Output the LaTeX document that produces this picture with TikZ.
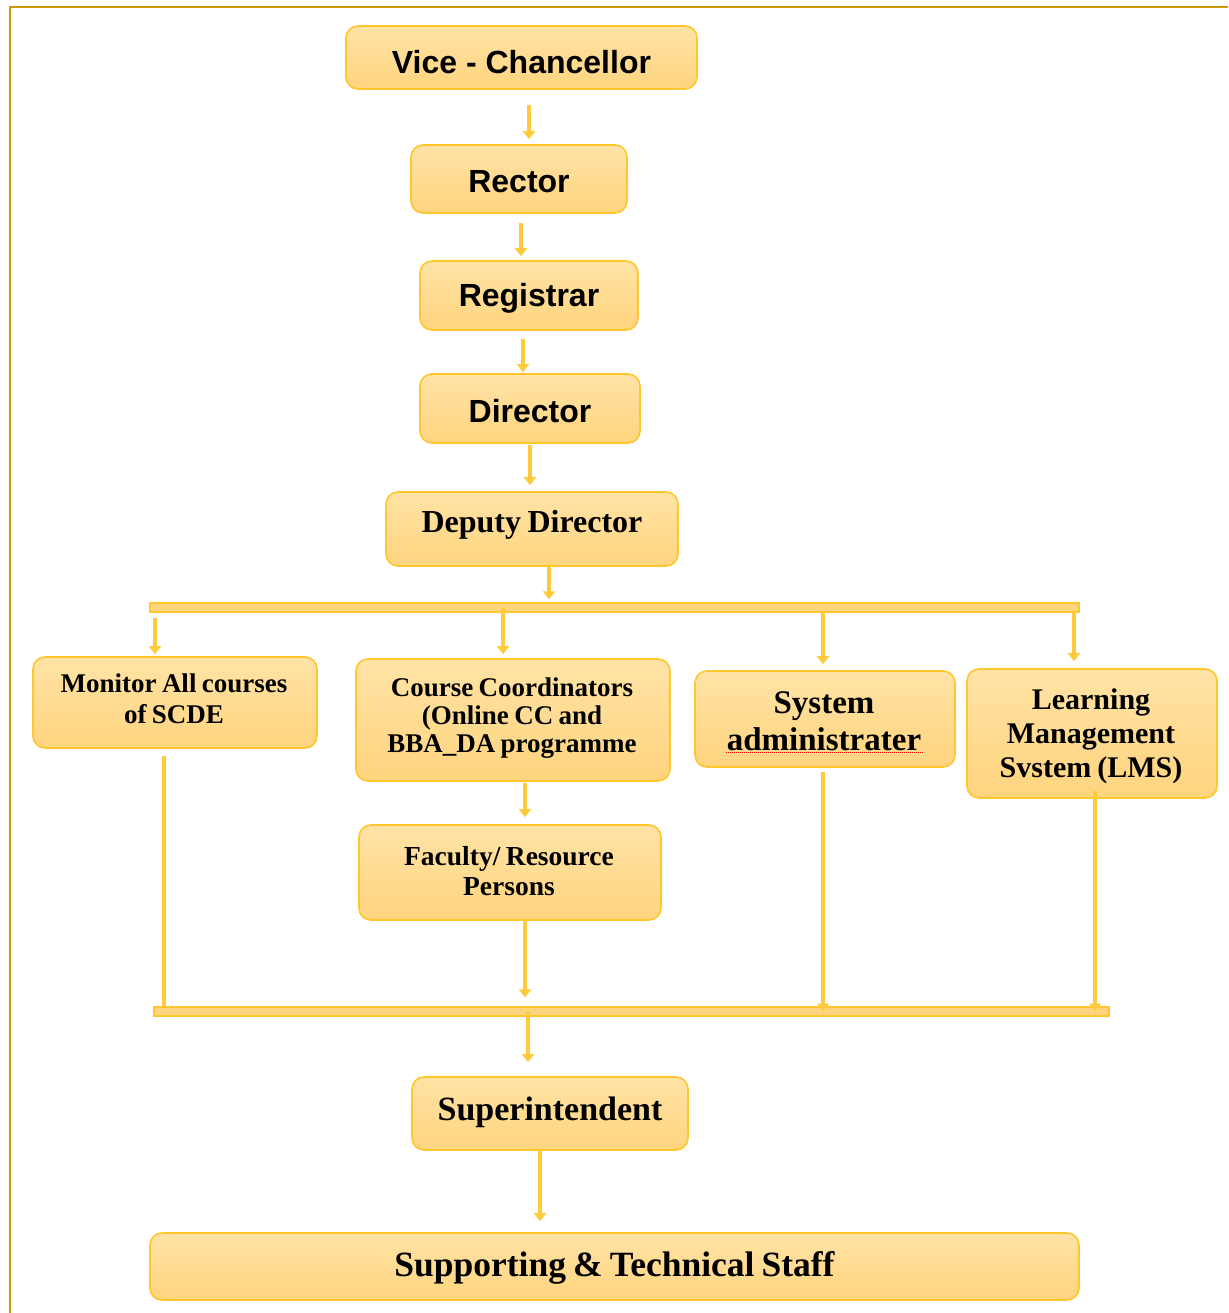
\documentclass[tikz,border=0pt]{standalone}
\usepackage{fontspec}
\usetikzlibrary{arrows.meta}
\newfontfamily\arialf{Liberation Sans}
\newfontfamily\timesf{Liberation Serif}[WordSpace=0.8]
\definecolor{boxline}{HTML}{FFC72C}
\definecolor{boxtop}{HTML}{FFE3A6}
\definecolor{boxbot}{HTML}{FFD47E}
\definecolor{arrc}{HTML}{FFCB3D}
\definecolor{framec}{HTML}{C99A06}
\tikzset{
  box/.style={draw=boxline, line width=1.6pt, rounded corners=12pt, top color=boxtop, bottom color=boxbot, inner sep=0pt},
  bar/.style={draw=boxline, line width=1.2pt, fill=boxbot, inner sep=0pt},
  sansl/.style={font=\arialf\bfseries\fontsize{32}{36}\selectfont, text=black},
  serl/.style 2 args={font=\timesf\bfseries\fontsize{#1}{#2}\selectfont, text=black, align=center},
  arr/.style={draw=arrc, line width=4pt, -{Triangle[width=12pt,length=8pt]}},
  plainline/.style={draw=arrc, line width=4pt},
}
\begin{document}
\begin{tikzpicture}[x=1pt, y=-1pt]
\useasboundingbox (0,0) rectangle (1228,1313);
\draw[framec, line width=2.5pt] (10,1313) -- (10,7) -- (1228,7);

% boxes
\node[box, minimum width=351pt, minimum height=63pt, label={[sansl, yshift=-4.5pt]center:Vice - Chancellor}] (vc) at (521.5,57.5) {};
\node[box, minimum width=216pt, minimum height=68pt, label={[sansl, yshift=-3pt]center:Rector}] (rector) at (519,179) {};
\node[box, minimum width=218pt, minimum height=69pt, label={[sansl, yshift=-2.5pt]center:Registrar}] (registrar) at (529,295.5) {};
\node[box, minimum width=220pt, minimum height=69pt, label={[sansl, yshift=-2.5pt]center:Director}] (director) at (530,408.5) {};
\node[box, minimum width=292pt, minimum height=74pt, label={[serl={32}{36}, yshift=4pt]center:Deputy Director}] (deputy) at (532,529) {};

\node[bar, minimum width=929pt, minimum height=9pt] (bar1) at (614.5,607.5) {};

\node[box, minimum width=284pt, minimum height=91pt, label={[serl={27}{31}, yshift=4pt, xshift=-1pt]center:Monitor All courses\\of SCDE}] (monitor) at (175,702.5) {};
\node[box, minimum width=314pt, minimum height=122pt, label={[serl={27}{28}, yshift=2pt, xshift=-1pt]center:Course Coordinators\\(Online CC and\\BBA\_DA programme}] (cc) at (513,720) {};
\node[box, minimum width=260pt, minimum height=96pt, label={[serl={33}{37}, yshift=-2.5pt, xshift=-1pt]center:System\\administrater}] (sys) at (825,719) {};
\node[box, minimum width=250pt, minimum height=129pt, label={[serl={30}{34}, yshift=-2.5pt, xshift=-1pt]center:Learning\\Management\\Svstem (LMS)}] (lms) at (1092,733.5) {};
\node[box, minimum width=302pt, minimum height=95pt, label={[serl={27.5}{30}, yshift=1.5pt, xshift=-1pt]center:Faculty/ Resource\\Persons}] (fac) at (510,872.5) {};

\node[bar, minimum width=955pt, minimum height=9pt] (bar2) at (631.5,1011.5) {};

\node[box, minimum width=276pt, minimum height=73pt, label={[serl={34}{38}, yshift=1.5pt]center:Superintendent}] (sup) at (550,1113.5) {};
\node[box, minimum width=929pt, minimum height=67pt, label={[serl={35.5}{40}, yshift=-1.5pt]center:Supporting \& Technical Staff}] (staff) at (614.5,1266.5) {};

% spell-check underline
\draw[red, line width=1pt, densely dotted] (726,752) -- (924,752);

% connectors
\draw[arr, shorten <=15pt, shorten >=5pt] (vc.south -| 529,0) -- (rector.north -| 529,0);
\draw[arr, shorten <=9pt, shorten >=4pt] (rector.south -| 521,0) -- (registrar.north -| 521,0);
\draw[arr, shorten <=8pt, shorten >=1pt] (registrar.south -| 523,0) -- (director.north -| 523,0);
\draw[arr, shorten <=1pt, shorten >=6pt] (director.south -| 530,0) -- (deputy.north -| 530,0);
\draw[arr, shorten >=3pt] (deputy.south -| 549,0) -- (bar1.north -| 549,0);
\draw[arr, shorten <=5pt, shorten >=2pt] (bar1.south -| 155,0) -- (monitor.north -| 155,0);
\draw[arr, shorten >=4pt] (bar1.center -| 503,0) -- (cc.north -| 503,0);
\draw[arr, shorten >=6pt] (bar1.south -| 823,0) -- (sys.north -| 823,0);
\draw[arr, shorten >=7pt] (bar1.south -| 1074,0) -- (lms.north -| 1074,0);
\draw[arr, shorten <=1pt, shorten >=7pt] (cc.south -| 525,0) -- (fac.north -| 525,0);
\draw[plainline, shorten <=7pt] (monitor.south -| 164,0) -- (bar2.north -| 164,0);
\draw[arr, shorten >=9pt] (fac.south -| 525,0) -- (bar2.north -| 525,0);
\draw[arr, shorten <=4pt] (sys.south -| 823,0) -- (bar2.center -| 823,0);
\draw[arr, shorten <=-8pt] (lms.south -| 1095,0) -- (bar2.center -| 1095,0);
\draw[arr, shorten >=14pt] (bar2.center -| 528,0) -- (sup.north -| 528,0);
\draw[arr, shorten >=11pt] (sup.south -| 540,0) -- (staff.north -| 540,0);
\end{tikzpicture}
\end{document}
